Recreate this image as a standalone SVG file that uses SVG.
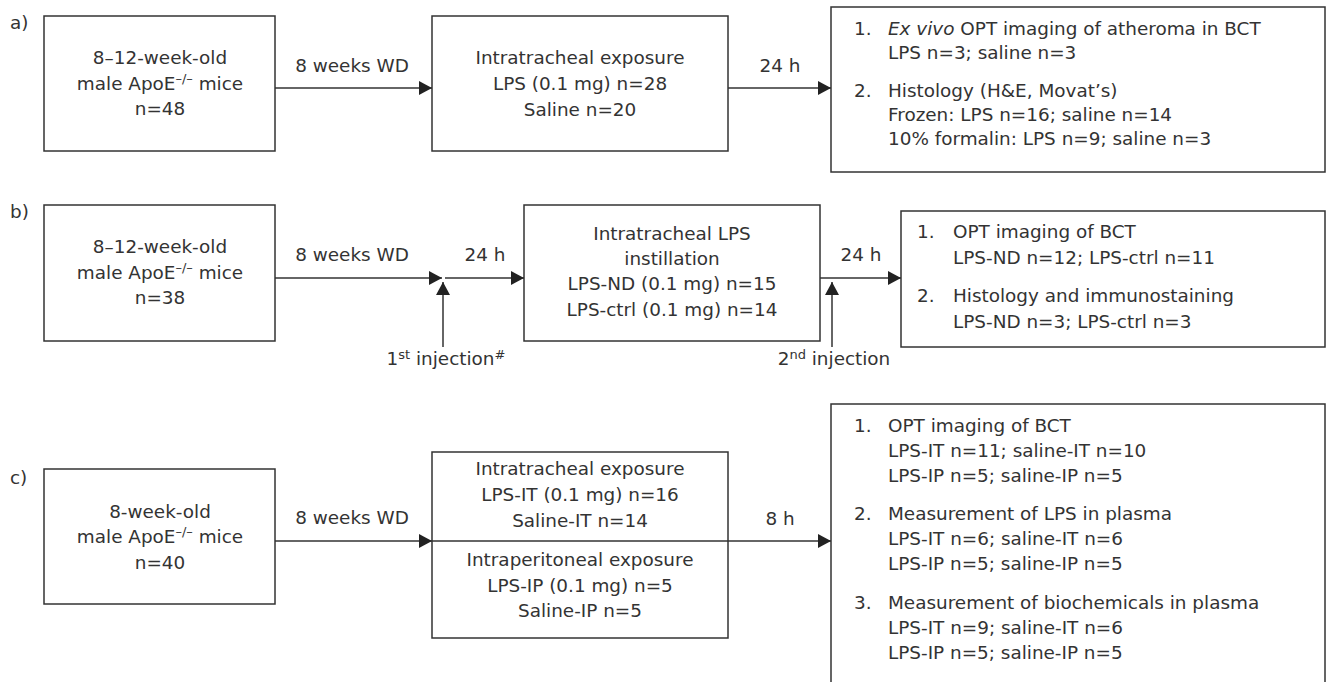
<svg xmlns="http://www.w3.org/2000/svg" width="1328" height="682" viewBox="0 0 1328 682">
<style>
  text { font-family: "DejaVu Sans", "Liberation Sans", sans-serif; font-size: 18.4px; fill: #333; }
  .c { text-anchor: middle; }
  .box { fill: #fff; stroke: #333; stroke-width: 1.5; }
  .ln { fill: none; stroke: #333; stroke-width: 1.5; }
  .sup { font-size: 13px; }
</style>
<defs>
  <marker id="ah" markerUnits="userSpaceOnUse" markerWidth="13" markerHeight="14" viewBox="0 0 13 14" refX="13" refY="7" orient="auto">
    <path d="M0,0 L13,7 L0,14 Z" fill="#222"/>
  </marker>
</defs>
<rect width="1328" height="682" fill="#fff"/>

<text x="10" y="29">a)</text>
<text x="10" y="218">b)</text>
<text x="10" y="484">c)</text>

<!-- Panel a -->
<g id="a1">
  <rect class="box" x="44" y="16" width="231" height="135"/>
  <text class="c" x="160" y="64">8–12-week-old</text>
  <text class="c" x="160" y="90">male ApoE<tspan class="sup" dy="-7">–/–</tspan><tspan dy="7"> mice</tspan></text>
  <text class="c" x="160" y="115">n=48</text>
</g>
<g id="a2">
  <rect class="box" x="432" y="16" width="296" height="135"/>
  <text class="c" x="580" y="64">Intratracheal exposure</text>
  <text class="c" x="580" y="90">LPS (0.1 mg) n=28</text>
  <text class="c" x="580" y="116">Saline n=20</text>
</g>
<g id="a3">
  <rect class="box" x="831" y="7" width="494" height="165"/>
  <text x="854" y="35">1.</text>
  <text x="888" y="35"><tspan font-style="italic">Ex vivo</tspan> OPT imaging of atheroma in BCT</text>
  <text x="888" y="59">LPS n=3; saline n=3</text>
  <text x="854" y="97">2.</text>
  <text x="888" y="97">Histology (H&amp;E, Movat’s)</text>
  <text x="888" y="121">Frozen: LPS n=16; saline n=14</text>
  <text x="888" y="145">10% formalin: LPS n=9; saline n=3</text>
</g>

<!-- Panel b -->
<g id="b1">
  <rect class="box" x="44" y="205" width="231" height="136"/>
  <text class="c" x="160" y="253">8–12-week-old</text>
  <text class="c" x="160" y="279">male ApoE<tspan class="sup" dy="-7">–/–</tspan><tspan dy="7"> mice</tspan></text>
  <text class="c" x="160" y="304">n=38</text>
</g>
<g id="b2">
  <rect class="box" x="524" y="205" width="296" height="136"/>
  <text class="c" x="672" y="240">Intratracheal LPS</text>
  <text class="c" x="672" y="265">instillation</text>
  <text class="c" x="672" y="290">LPS-ND (0.1 mg) n=15</text>
  <text class="c" x="672" y="316">LPS-ctrl (0.1 mg) n=14</text>
</g>
<g id="b3">
  <rect class="box" x="901" y="211" width="424" height="136"/>
  <text x="917" y="238">1.</text>
  <text x="953" y="238">OPT imaging of BCT</text>
  <text x="953" y="264">LPS-ND n=12; LPS-ctrl n=11</text>
  <text x="917" y="302">2.</text>
  <text x="953" y="302">Histology and immunostaining</text>
  <text x="953" y="328">LPS-ND n=3; LPS-ctrl n=3</text>
</g>

<!-- Panel c -->
<g id="c1">
  <rect class="box" x="44" y="469" width="231" height="135"/>
  <text class="c" x="160" y="518">8-week-old</text>
  <text class="c" x="160" y="543">male ApoE<tspan class="sup" dy="-7">–/–</tspan><tspan dy="7"> mice</tspan></text>
  <text class="c" x="160" y="569">n=40</text>
</g>
<g id="c2">
  <rect class="box" x="432" y="452" width="296" height="186"/>
  <line class="ln" x1="432" y1="541" x2="728" y2="541"/>
  <text class="c" x="580" y="475">Intratracheal exposure</text>
  <text class="c" x="580" y="501">LPS-IT (0.1 mg) n=16</text>
  <text class="c" x="580" y="527">Saline-IT n=14</text>
  <text class="c" x="580" y="566">Intraperitoneal exposure</text>
  <text class="c" x="580" y="592">LPS-IP (0.1 mg) n=5</text>
  <text class="c" x="580" y="617">Saline-IP n=5</text>
</g>
<g id="c3">
  <rect class="box" x="831" y="404" width="494" height="290"/>
  <text x="854" y="432">1.</text>
  <text x="888" y="432">OPT imaging of BCT</text>
  <text x="888" y="457">LPS-IT n=11; saline-IT n=10</text>
  <text x="888" y="482">LPS-IP n=5; saline-IP n=5</text>
  <text x="854" y="520">2.</text>
  <text x="888" y="520">Measurement of LPS in plasma</text>
  <text x="888" y="545">LPS-IT n=6; saline-IT n=6</text>
  <text x="888" y="570">LPS-IP n=5; saline-IP n=5</text>
  <text x="854" y="609">3.</text>
  <text x="888" y="609">Measurement of biochemicals in plasma</text>
  <text x="888" y="634">LPS-IT n=9; saline-IT n=6</text>
  <text x="888" y="659">LPS-IP n=5; saline-IP n=5</text>
</g>

<!-- Connectors -->
<g id="connectors">
  <line class="ln" x1="275" y1="88" x2="432" y2="88" marker-end="url(#ah)"/>
  <line class="ln" x1="728" y1="88" x2="831" y2="88" marker-end="url(#ah)"/>
  <line class="ln" x1="275" y1="278" x2="442" y2="278" marker-end="url(#ah)"/>
  <line class="ln" x1="445" y1="278" x2="524" y2="278" marker-end="url(#ah)"/>
  <line class="ln" x1="820" y1="278" x2="901" y2="278" marker-end="url(#ah)"/>
  <line class="ln" x1="443" y1="347" x2="443" y2="282" marker-end="url(#ah)"/>
  <line class="ln" x1="832" y1="347" x2="832" y2="282" marker-end="url(#ah)"/>
  <line class="ln" x1="275" y1="541" x2="432" y2="541" marker-end="url(#ah)"/>
  <line class="ln" x1="728" y1="541" x2="831" y2="541" marker-end="url(#ah)"/>
</g>

<!-- Connector labels -->
<g id="labels">
  <text class="c" x="352" y="72">8 weeks WD</text>
  <text class="c" x="780" y="72">24 h</text>
  <text class="c" x="352" y="261">8 weeks WD</text>
  <text class="c" x="485" y="261">24 h</text>
  <text class="c" x="861" y="261">24 h</text>
  <text class="c" x="446" y="365">1<tspan class="sup" dy="-6">st</tspan><tspan dy="6"> injection</tspan><tspan class="sup" dy="-6">#</tspan></text>
  <text class="c" x="834" y="365">2<tspan class="sup" dy="-6">nd</tspan><tspan dy="6"> injection</tspan></text>
  <text class="c" x="352" y="524">8 weeks WD</text>
  <text class="c" x="780" y="525">8 h</text>
</g>
</svg>
